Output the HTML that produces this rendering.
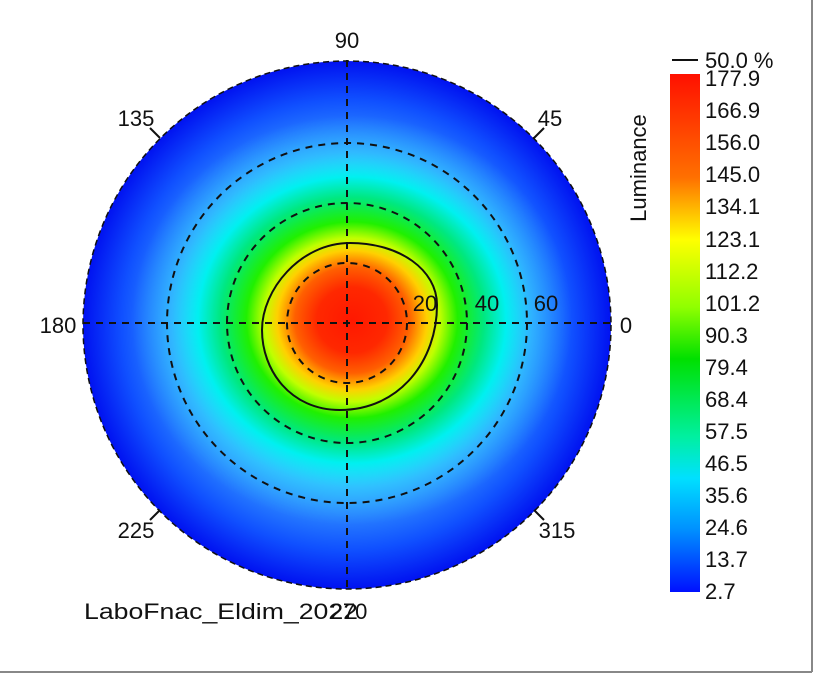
<!DOCTYPE html>
<html><head><meta charset="utf-8"><style>
html,body{margin:0;padding:0;background:#fff;width:817px;height:674px;overflow:hidden}
svg{position:absolute;left:0;top:0}
text{font-family:"Liberation Sans",sans-serif;font-size:22px;fill:#111}
</style></head><body>
<svg width="817" height="674" viewBox="0 0 817 674">
<defs>
<radialGradient id="bg" cx="347" cy="325" r="265" gradientUnits="userSpaceOnUse">
<stop offset="0" stop-color="#30e8ff"/>
<stop offset="0.5" stop-color="#30d0ff"/>
<stop offset="0.68" stop-color="#3090ff"/>
<stop offset="0.85" stop-color="#1050ff"/>
<stop offset="1" stop-color="#0010f0"/>
</radialGradient>
<radialGradient id="hot" cx="352" cy="320" r="220" gradientUnits="userSpaceOnUse" gradientTransform="translate(352 320) scale(1 0.93) translate(-352 -320)">
<stop offset="0" stop-color="#ff1800"/>
<stop offset="0.16" stop-color="#ff2800"/>
<stop offset="0.26" stop-color="#ff6000"/>
<stop offset="0.34" stop-color="#ffd000"/>
<stop offset="0.4" stop-color="#c0ff00"/>
<stop offset="0.48" stop-color="#20f000"/>
<stop offset="0.6" stop-color="#00e880"/>
<stop offset="0.7" stop-color="#00f0f0"/>
<stop offset="0.82" stop-color="#30d8ff" stop-opacity="0.5"/>
<stop offset="1" stop-color="#30c0ff" stop-opacity="0"/>
</radialGradient>
<linearGradient id="cb" x1="0" y1="0" x2="0" y2="1">
<stop offset="0" stop-color="#ff1000"/>
<stop offset="0.2" stop-color="#ff7000"/>
<stop offset="0.32" stop-color="#ffff00"/>
<stop offset="0.45" stop-color="#90ff00"/>
<stop offset="0.55" stop-color="#00e000"/>
<stop offset="0.7" stop-color="#00f0a0"/>
<stop offset="0.78" stop-color="#00e0ff"/>
<stop offset="0.88" stop-color="#0090ff"/>
<stop offset="1" stop-color="#0010ff"/>
</linearGradient>
<clipPath id="cl"><circle cx="347" cy="325" r="264"/></clipPath>
</defs>
<line x1="0" y1="672" x2="812" y2="672" stroke="#888" stroke-width="2"/>
<line x1="812" y1="0" x2="812" y2="672" stroke="#888" stroke-width="2"/>
<circle cx="347" cy="325" r="264" fill="url(#bg)"/>
<g clip-path="url(#cl)">
<ellipse cx="352" cy="320" rx="220" ry="205" fill="url(#hot)"/>
</g>
<circle cx="347" cy="325" r="264" fill="none" stroke="#111" stroke-width="1.5" stroke-dasharray="6 4"/>
<g fill="none" stroke="#111" stroke-width="2" stroke-dasharray="7 6">
<circle cx="347" cy="323" r="60"/>
<circle cx="347" cy="323" r="120"/>
<circle cx="347" cy="323" r="180"/>
<line x1="83" y1="323" x2="611" y2="323"/>
<line x1="347" y1="60" x2="347" y2="590"/>
</g>
<path d="M262,330 C262,290 300,243 350,243 C400,243 437,270 437,305 C437,360 400,410 340,410 C290,410 262,370 262,330 Z" fill="none" stroke="#111" stroke-width="2"/>
<g stroke="#111" stroke-width="2">
<line x1="534" y1="138" x2="544" y2="128"/><line x1="160" y1="138" x2="150" y2="128"/>
<line x1="160" y1="510" x2="150" y2="520"/><line x1="534" y1="510" x2="544" y2="520"/>
</g>
<text x="347" y="48" text-anchor="middle">90</text>
<text x="550" y="126" text-anchor="middle">45</text>
<text x="136" y="126" text-anchor="middle">135</text>
<text x="58" y="333" text-anchor="middle">180</text>
<text x="626" y="333" text-anchor="middle">0</text>
<text x="136" y="538" text-anchor="middle">225</text>
<text x="557" y="538" text-anchor="middle">315</text>
<text x="425" y="311" text-anchor="middle">20</text>
<text x="487" y="311" text-anchor="middle">40</text>
<text x="546" y="311" text-anchor="middle">60</text>
<text x="84" y="619" textLength="274" lengthAdjust="spacingAndGlyphs">LaboFnac_Eldim_2022</text>
<text x="349" y="619" text-anchor="middle">270</text>
<rect x="670" y="74" width="30" height="518" fill="url(#cb)"/>
<line x1="672" y1="60" x2="698" y2="60" stroke="#111" stroke-width="2"/>
<text x="705" y="68">50.0 %</text>
<text x="648" y="180" text-anchor="middle" transform="rotate(-90 641 175)">Luminance</text>
<g>
<text x="705" y="86">177.9</text><text x="705" y="118">166.9</text><text x="705" y="150">156.0</text>
<text x="705" y="182">145.0</text><text x="705" y="214">134.1</text><text x="705" y="247">123.1</text>
<text x="705" y="279">112.2</text><text x="705" y="311">101.2</text><text x="705" y="343">90.3</text>
<text x="705" y="375">79.4</text><text x="705" y="407">68.4</text><text x="705" y="439">57.5</text>
<text x="705" y="471">46.5</text><text x="705" y="503">35.6</text><text x="705" y="535">24.6</text>
<text x="705" y="567">13.7</text><text x="705" y="599">2.7</text>
</g>
</svg>
</body></html>
